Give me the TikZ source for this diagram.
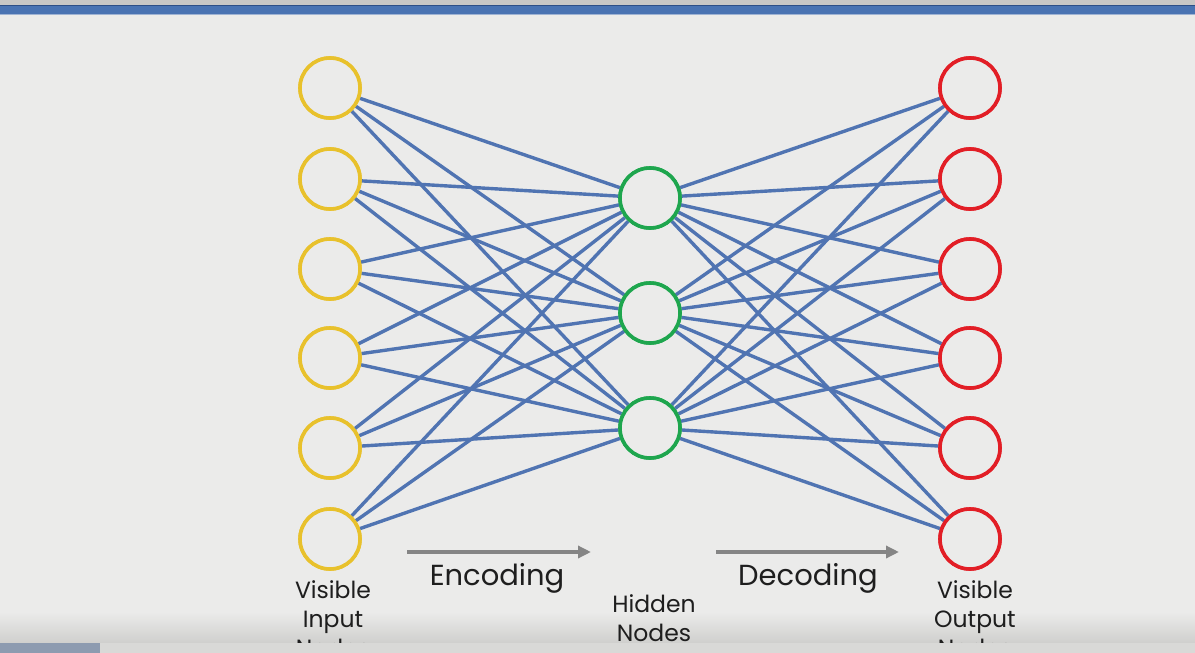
\documentclass[tikz,border=0pt]{standalone}
\usepackage{fontspec}
\setmainfont{Poppins}
\usetikzlibrary{arrows.meta}
\definecolor{bgc}{HTML}{EBEBEA}
\definecolor{inyel}{HTML}{E8C12C}
\definecolor{hidgrn}{HTML}{1EA64E}
\definecolor{outred}{HTML}{E21E26}
\definecolor{edgeblue}{HTML}{5074B2}
\definecolor{arrgray}{HTML}{858585}
\definecolor{topbar}{HTML}{4A73B2}
\definecolor{topgray}{HTML}{C9C7C5}
\definecolor{topdark}{HTML}{2E4F86}
\definecolor{toplight}{HTML}{9FB3D3}
\definecolor{shadebot}{HTML}{CFCFCD}
\definecolor{botbar}{HTML}{D9D9D7}
\definecolor{botslate}{HTML}{8D9BB0}
\definecolor{txt}{HTML}{1E1E1E}
\begin{document}
\begin{tikzpicture}[x=1pt,y=-1pt,
  neuron/.style={circle,minimum size=60pt,inner sep=0pt,line width=3.6pt,fill=bgc},
  inn/.style={neuron,draw=inyel},
  hid/.style={neuron,draw=hidgrn},
  outn/.style={neuron,draw=outred},
  edge/.style={draw=edgeblue,line width=3.4pt},
  lbl/.style={align=center,font=\fontsize{23.5}{29}\selectfont,text=txt,inner sep=0pt},
  big/.style={font=\fontsize{29}{30}\selectfont,text=txt},
  flow/.style={draw=arrgray,line width=3.8pt,-{Triangle[length=13pt,width=12pt]}}]
\useasboundingbox (0,0) rectangle (1195,653);
\fill[bgc] (0,0) rectangle (1195,653);
\fill[topgray] (0,0) rectangle (1195,5);
\fill[topbar] (0,5) rectangle (1195,14);
\draw[topdark,line width=1pt] (0,5.5) -- (1195,5.5);
\draw[toplight,line width=1pt] (0,14) -- (1195,14);
\shade[top color=bgc,bottom color=shadebot] (0,612) rectangle (1195,643);
% nodes
\foreach \i/\y in {1/88,2/179,3/269,4/358,5/448,6/539}{
  \node[inn] (i\i) at (330,\y) {};
  \node[outn] (o\i) at (970,\y) {};
}
\foreach \j/\y in {1/198,2/313,3/428}{
  \node[hid] (h\j) at (650,\y) {};
}
\foreach \i in {1,...,6}{
  \foreach \j in {1,2,3}{
    \path[edge] (i\i) -- (h\j);
    \path[edge] (h\j) -- (o\i);
  }
}
% redraw nodes on top
\foreach \i/\y in {1/88,2/179,3/269,4/358,5/448,6/539}{
  \node[inn] at (330,\y) {};
  \node[outn] at (970,\y) {};
}
\foreach \j/\y in {1/198,2/313,3/428}{
  \node[hid] at (650,\y) {};
}
% flows
\coordinate (e1) at (407,552); \coordinate (e2) at (591,552);
\coordinate (d1) at (716,552); \coordinate (d2) at (899,552);
\draw[flow] (e1) -- (e2);
\draw[flow] (d1) -- (d2);
\node[big] (enc) at (497,578) {Encoding};
\node[big] (dec) at (808,578) {Decoding};
\node[lbl,anchor=north] (li) at (333,580) {Visible\\Input\\Nodes};
\node[lbl,anchor=north] (lh) at (654,594) {Hidden\\Nodes};
\node[lbl,anchor=north] (lo) at (975,580) {Visible\\Output\\Nodes};
\fill[botbar] (0,643) rectangle (1195,653);
\fill[botslate] (0,643) rectangle (100,653);
\end{tikzpicture}
\end{document}
